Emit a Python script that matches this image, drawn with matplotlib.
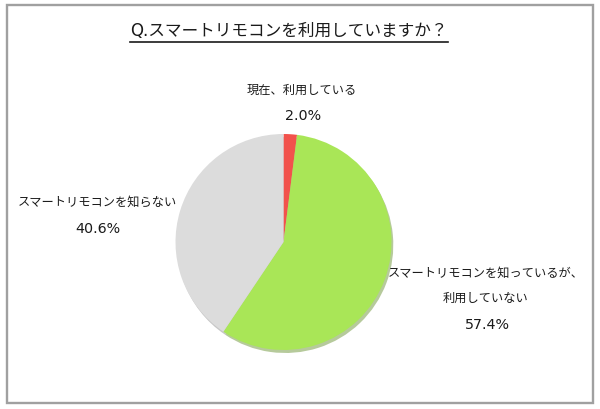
import matplotlib
matplotlib.use("Agg")
import matplotlib.pyplot as plt
from matplotlib.patches import Rectangle
from matplotlib.lines import Line2D

plt.rcParams['font.family'] = ['DejaVu Sans', 'Noto Sans CJK JP']

title = "Q.スマートリモコンを利用していますか？"
categories = ["現在、利用している", "スマートリモコンを知っているが、\n利用していない", "スマートリモコンを知らない"]
values = [2.0, 57.4, 40.6]
colors = ["#f2524c", "#a9e657", "#dcdcdc"]

W, H = 600, 409
fig = plt.figure(figsize=(W / 100, H / 100), dpi=100)

def px(x, y):
    # pixel coords (top-left origin) -> figure fraction
    return x / W, 1 - y / H

# outer frame
fig.patches.append(Rectangle(px(7, 403), 586 / W, 398 / H, transform=fig.transFigure,
                             fill=False, edgecolor="#a0a0a0", linewidth=1.7))

# pie
cx, cy, r = 283.5, 242, 108
ax = fig.add_axes([(cx - r * 1.05) / W, (H - cy - r * 1.05) / H, 2.1 * r / W, 2.1 * r / H])
ax.pie(values, colors=colors, startangle=90, counterclock=False, radius=1,
       shadow={'ox': 0.012, 'oy': -0.02, 'shade': 0.35},
       wedgeprops={'linewidth': 0})
ax.set_xlim(-1.05, 1.05)
ax.set_ylim(-1.05, 1.05)
ax.set_aspect('equal')
ax.axis('off')

# title with underline
t = fig.text(*px(289, 31), title, ha='center', va='center', fontsize=12, color='#1a1a1a')
fig.canvas.draw()
bb = t.get_window_extent()
fig.lines.append(Line2D([bb.x0 / W, bb.x1 / W], [(H - 42) / H, (H - 42) / H],
                        transform=fig.transFigure, color='#1a1a1a', linewidth=1.2))

# data labels
label_pos = [(302, 90), (486, 273), (97, 202)]
for name, v, (lx, ly) in zip(categories, values, label_pos):
    lines = name.split("\n")
    for i, s in enumerate(lines):
        fig.text(*px(lx, ly + i * 25.5), s, ha='center', va='center', fontsize=8.8, color='#1a1a1a')
    fig.text(*px(lx + 1, ly + len(lines) * 25.5 + 1), f"{v:.1f}%", ha='center', va='center',
             fontsize=10.3, color='#1a1a1a')

fig.savefig("out.png", dpi=100)
